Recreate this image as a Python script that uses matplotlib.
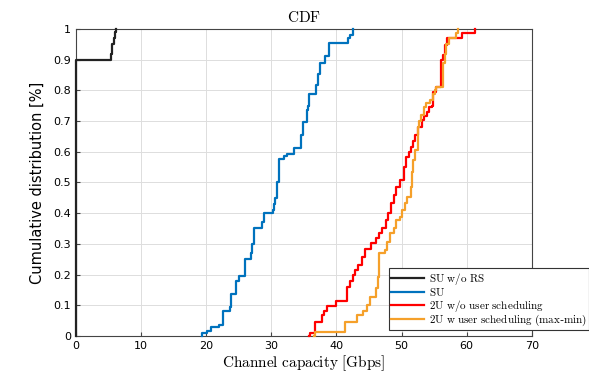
import matplotlib
matplotlib.use('Agg')
import matplotlib.pyplot as plt

plt.rcParams['mathtext.fontset'] = 'cm'
plt.rcParams['font.family'] = ['DejaVu Sans']

# step locations (Gbps) and CDF level after each step
su_rs_x = [0.0, 0.0, 5.45, 5.6, 5.8, 6.0, 6.2]
su_rs_y = [0.0, 0.9, 0.92, 0.95, 0.97, 0.99, 1.0]

su_x = [19.3, 19.4, 20.1, 20.8, 22.0, 22.6, 23.6, 23.8, 24.6, 25.0, 25.9, 26.8, 27.1,
        27.4, 28.6, 28.8, 30.2, 30.4, 30.6, 30.8, 30.9, 31.1, 32.0, 32.4, 33.4, 34.6,
        34.9, 35.4, 35.6, 35.8, 36.8, 37.1, 37.5, 38.2, 38.9, 41.7, 42.1, 42.6]
su_y = [0.0, 0.01, 0.015, 0.028, 0.037, 0.083, 0.095, 0.138, 0.18, 0.195, 0.25, 0.27, 0.30,
        0.352, 0.37, 0.40, 0.41, 0.43, 0.45, 0.47, 0.50, 0.575, 0.585, 0.592, 0.611, 0.655,
        0.696, 0.736, 0.75, 0.788, 0.818, 0.853, 0.89, 0.912, 0.955, 0.97, 0.98, 1.0]

u2_x = [35.8, 35.9, 36.7, 37.7, 38.1, 38.5, 40.0, 41.6, 42.0, 42.5, 42.9, 43.3, 43.9,
        44.4, 45.3, 46.1, 46.6, 47.0, 47.6, 47.9, 48.3, 48.8, 49.2, 49.7, 50.3, 50.7,
        51.1, 51.4, 51.7, 52.0, 52.5, 53.1, 53.5, 53.9, 54.2, 54.6, 54.8, 55.3, 56.0,
        56.3, 56.6, 56.9, 59.3, 61.2]
u2_y = [0.0, 0.009, 0.047, 0.068, 0.081, 0.098, 0.115, 0.16, 0.18, 0.20, 0.215, 0.23, 0.258,
        0.283, 0.302, 0.318, 0.335, 0.351, 0.378, 0.40, 0.432, 0.46, 0.485, 0.508, 0.551,
        0.584, 0.60, 0.617, 0.635, 0.655, 0.682, 0.704, 0.715, 0.73, 0.745, 0.75, 0.796,
        0.812, 0.899, 0.915, 0.948, 0.97, 0.986, 1.0]

u2s_x = [36.6, 36.7, 41.3, 43.1, 44.0, 44.7, 45.1, 46.1, 46.4, 46.6, 47.5, 47.8, 48.2,
         48.9, 49.1, 49.8, 50.1, 50.5, 50.8, 51.4, 51.6, 51.8, 52.0, 52.5, 52.7, 53.0,
         53.4, 53.8, 54.4, 54.8, 55.1, 55.3, 56.4, 56.6, 56.8, 57.2, 58.4, 58.6]
u2s_y = [0.0, 0.014, 0.047, 0.068, 0.08, 0.10, 0.128, 0.155, 0.193, 0.269, 0.28, 0.307, 0.335,
         0.351, 0.378, 0.389, 0.41, 0.434, 0.454, 0.486, 0.535, 0.573, 0.606, 0.682, 0.70,
         0.72, 0.745, 0.76, 0.77, 0.788, 0.801, 0.81, 0.888, 0.92, 0.95, 0.97, 0.986, 1.0]

labels = [r'$\mathrm{SU\ w/o\ RS}$', r'$\mathrm{SU}$',
          r'$\mathrm{2U\ w/o\ user\ scheduling}$',
          r'$\mathrm{2U\ w\ user\ scheduling\ (max}$-$\mathrm{min)}$']
colors = ['#222222', '#0072BD', '#FF0000', '#F5A02A']

fig = plt.figure(figsize=(5.89, 3.79), dpi=100)
ax = fig.add_axes([0.129, 0.1135, 0.774, 0.81])

for xs, ys, c, lab in zip([su_rs_x, su_x, u2_x, u2s_x], [su_rs_y, su_y, u2_y, u2s_y],
                          colors, labels):
    ax.plot(xs, ys, drawstyle='steps-post', color=c, lw=1.6, label=lab,
            zorder=3, clip_on=False)

ax.set_xlim(0, 70)
ax.set_ylim(0, 1)
ax.set_xticks(range(0, 71, 10))
ax.set_yticks([i / 10 for i in range(11)])
ax.set_yticklabels(['0', '0.1', '0.2', '0.3', '0.4', '0.5', '0.6', '0.7', '0.8', '0.9', '1'])
ax.grid(True, color='#dddddd', lw=0.7)
ax.set_axisbelow(True)
ax.tick_params(direction='in', labelsize=8, length=3, color='#444444')
for s in ax.spines.values():
    s.set_color('#444444')
    s.set_linewidth(0.8)

ax.set_title(r'$\mathrm{CDF}$', fontsize=11, pad=5)
ax.set_xlabel(r'$\mathrm{Channel\ capacity\ [Gbps]}$', fontsize=11, labelpad=2)
ax.set_ylabel('Cumulative distribution [%]', fontsize=10.5, labelpad=6)

leg = ax.legend(loc='lower left', bbox_to_anchor=(0.686, 0.018), fontsize=8,
                frameon=True, fancybox=False, edgecolor='#333333', framealpha=1,
                borderpad=0.2, labelspacing=-0.05, handlelength=3.0, handletextpad=0.4,
                borderaxespad=0)
leg.get_frame().set_linewidth(0.8)
leg.set_zorder(5)

fig.savefig('out.png', dpi=100)
